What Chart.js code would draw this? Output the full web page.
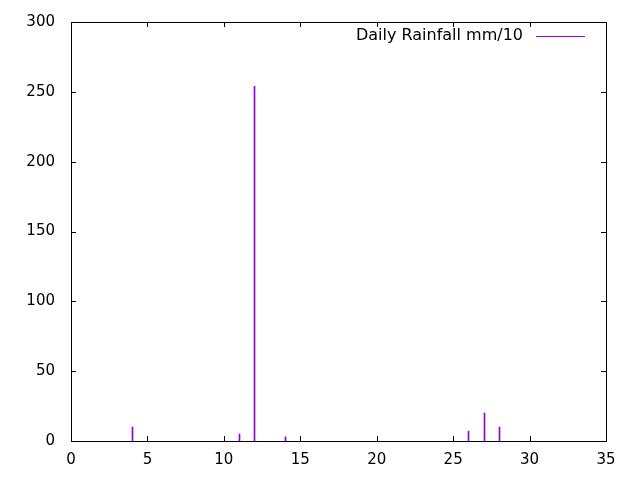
<!DOCTYPE html>
<html>
<head>
<meta charset="utf-8">
<script src="https://cdn.jsdelivr.net/npm/chart.js@4/dist/chart.umd.min.js"></script>
<style>
  html, body { margin: 0; padding: 0; background: #fff; }
  #wrap { width: 640px; height: 480px; }
</style>
</head>
<body>
<div id="wrap"><canvas id="grafico"></canvas></div>
<script>
// dias del mes y lluvia diaria (mm/10)
const dias = [1, 2, 3, 4, 5, 6, 7, 8, 9, 10, 11, 12, 13, 14, 15, 16, 17, 18, 19, 20, 21, 22, 23, 24, 25, 26, 27, 28, 29, 30, 31];
const lluvia = [0, 0, 0, 10, 0, 0, 0, 0, 0, 0, 5, 254, 0, 3, 0, 0, 0, 0, 0, 0, 0, 0, 0, 0, 0, 7, 20, 10, 0, 0, 0];
const ticksX = [0, 5, 10, 15, 20, 25, 30, 35];
const ticksY = [0, 50, 100, 150, 200, 250, 300];
const etiqueta = "Daily Rainfall mm/10";

const color = "rgb(148, 0, 211)";
const fuente = "DejaVu Sans";

// ajusta las barras al pixel para que queden nitidas
const nitido = {
  id: "nitido",
  beforeDatasetsDraw(chart) {
    chart.getDatasetMeta(0).data.forEach(el => { el.x = Math.round(el.x) + 0.5; });
  }
};

// marco, marcas hacia dentro y leyenda estilo gnuplot
const marco = {
  id: "marco",
  afterDraw(chart) {
    const ctx = chart.ctx;
    const a = chart.chartArea;
    const sx = chart.scales.x;
    const sy = chart.scales.y;
    const largo = 5;
    ctx.save();
    ctx.strokeStyle = "#000";
    ctx.lineWidth = 1;
    ctx.beginPath();
    ticksX.forEach(v => {
      const px = Math.round(sx.getPixelForValue(v)) + 0.5;
      ctx.moveTo(px, a.bottom); ctx.lineTo(px, a.bottom - largo);
      ctx.moveTo(px, a.top); ctx.lineTo(px, a.top + largo);
    });
    ticksY.forEach(v => {
      const py = Math.round(sy.getPixelForValue(v)) + 0.5;
      ctx.moveTo(a.left, py); ctx.lineTo(a.left + largo, py);
      ctx.moveTo(a.right, py); ctx.lineTo(a.right - largo, py);
    });
    ctx.stroke();
    ctx.strokeRect(Math.round(a.left) + 0.5, Math.round(a.top) + 0.5,
      Math.round(a.right - a.left), Math.round(a.bottom - a.top));

    // leyenda
    ctx.font = "16px '" + fuente + "'";
    ctx.fillStyle = "#000";
    ctx.textAlign = "right";
    ctx.textBaseline = "middle";
    ctx.fillText(etiqueta, 523, 36);
    ctx.strokeStyle = color;
    ctx.lineWidth = 1;
    ctx.beginPath();
    ctx.moveTo(536, 36.5); ctx.lineTo(585, 36.5);
    ctx.stroke();
    ctx.restore();
  }
};

const ctx = document.getElementById("grafico").getContext("2d");
const grafico = new Chart(ctx, {
  type: "bar",
  data: {
    datasets: [
      {
        label: etiqueta,
        data: dias.map((d, i) => ({ x: d, y: lluvia[i] })),
        backgroundColor: c => (c.raw && c.raw.y > 0 ? color : "rgba(0,0,0,0)"),
        borderWidth: 0,
        barThickness: 1,
      },
    ],
  },
  options: {
    responsive: true,
    maintainAspectRatio: false,
    animation: false,
    layout: { padding: { left: 0, right: 34, top: 22, bottom: 0 } },
    plugins: { legend: { display: false }, tooltip: { enabled: false } },
    scales: {
      x: {
        type: "linear",
        min: 0,
        max: 35,
        offset: false,
        afterBuildTicks: s => { s.ticks = ticksX.map(v => ({ value: v })); },
        afterFit: s => { s.height = 39; s.paddingLeft = 0; s.paddingRight = 0; },
        grid: { display: false, drawTicks: false },
        border: { display: false },
        ticks: { color: "#000", padding: 10, maxRotation: 0, font: { family: fuente, size: 15 } },
      },
      y: {
        min: 0,
        max: 300,
        afterBuildTicks: s => { s.ticks = ticksY.map(v => ({ value: v })); },
        afterFit: s => { s.width = 71; s.paddingTop = 0; s.paddingBottom = 0; },
        grid: { display: false, drawTicks: false },
        border: { display: false },
        ticks: { color: "#000", padding: 16, font: { family: fuente, size: 15 } },
      },
    },
  },
  plugins: [nitido, marco],
});
</script>
</body>
</html>
